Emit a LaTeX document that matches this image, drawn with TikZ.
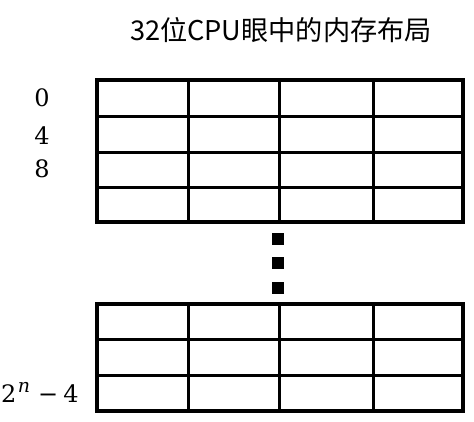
\documentclass[tikz,border=0pt]{standalone}
\usepackage{fontspec}
\newfontfamily\cjk{Noto Sans CJK SC}
\newfontfamily\numf{DejaVu Serif}
\begin{document}
\begin{tikzpicture}[x=1pt,y=-1pt,
  outer/.style={line width=3.6pt},
  inner/.style={line width=3pt},
  addr/.style={font=\numf\fontsize{24}{24}\selectfont, inner sep=0pt},
  dotsq/.style={fill=black}]
\useasboundingbox (0,0) rectangle (474,421);
\fill[white] (0,0) rectangle (474,421);
\node[font=\cjk\fontsize{27.2}{27.2}\selectfont, inner sep=0pt] (title) at (281,30) {32位CPU眼中的内存布局};
% top block
\foreach \y in {116,152,187} \draw[inner] (97,\y) -- (463,\y);
\foreach \x in {188,279,373} \draw[inner] (\x,80) -- (\x,222);
\draw[outer] (97,80) rectangle (463,222);
% dots
\fill[dotsq] (272,233) rectangle (284,245);
\fill[dotsq] (272,257) rectangle (284,269);
\fill[dotsq] (272,282) rectangle (284,294);
% bottom block
\foreach \y in {339,375} \draw[inner] (97,\y) -- (463,\y);
\foreach \x in {188,279,373} \draw[inner] (\x,304) -- (\x,411);
\draw[outer] (97,304) rectangle (463,411);
% labels
\node[addr] (a0) at (42,98) {0};
\node[addr] (a4) at (42,136) {4};
\node[addr] (a8) at (42,169) {8};
\node[addr, anchor=base west] (an) at (1,402) {2\kern1.5pt\raisebox{10pt}{\fontsize{19}{19}\selectfont\textit{n}}\kern8pt−\kern5pt4};
\end{tikzpicture}
\end{document}
